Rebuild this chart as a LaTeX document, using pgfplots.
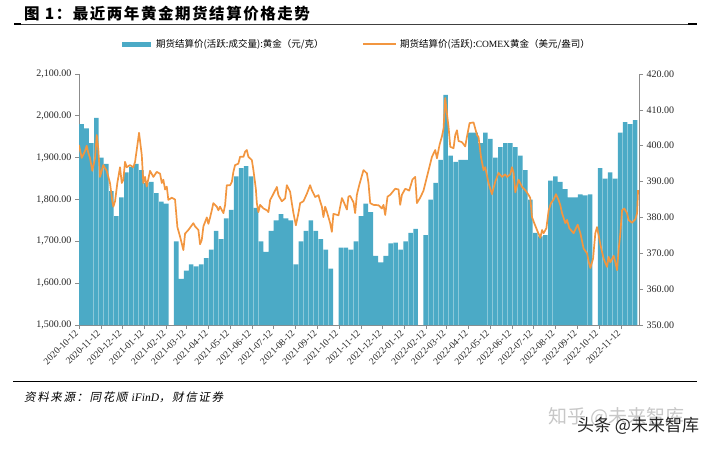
\documentclass[border=0pt]{standalone}
\usepackage{pgfplots}
\pgfplotsset{compat=1.18}
\usepackage{fontspec}
\setmainfont{Liberation Serif}
\newfontfamily\cjk{Noto Sans CJK SC}
\newfontfamily\cjktitle{Noto Sans CJK SC}[LetterSpace=10]
\newfontfamily\cjksl{Noto Sans CJK SC}[FakeSlant=0.2,LetterSpace=14]
\definecolor{barc}{RGB}{75,170,198}
\definecolor{linec}{RGB}{242,150,64}
\definecolor{axc}{RGB}{140,140,140}

\pgfplotstableread{
x y
3.5 1980
10.5 1970
17.5 1935
24.5 1995
31.5 1900
38.5 1885
45.5 1820
52.5 1760
59.5 1805
66.5 1865
73.5 1878
80.5 1885
87.5 1870
94.5 1840
101.5 1842
108.5 1815
115.5 1795
122.5 1790
136.5 1700
143.5 1610
150.5 1630
157.5 1645
164.5 1640
171.5 1645
178.5 1660
185.5 1680
192.5 1725
199.5 1705
206.5 1755
213.5 1775
220.5 1855
227.5 1875
234.5 1880
241.5 1855
248.5 1780
255.5 1700
262.5 1675
269.5 1725
276.5 1750
283.5 1765
290.5 1755
297.5 1750
304.5 1645
311.5 1700
318.5 1725
325.5 1750
332.5 1725
339.5 1705
346.5 1680
353.5 1635
367.5 1685
374.5 1685
381.5 1680
388.5 1700
395.5 1760
402.5 1790
409.5 1770
416.5 1665
423.5 1650
430.5 1665
437.5 1695
444.5 1697
451.5 1680
458.5 1700
465.5 1720
472.5 1730
486.5 1715
493.5 1800
500.5 1840
507.5 1895
514.5 2050
521.5 1905
528.5 1890
535.5 1895
542.5 1895
549.5 1960
556.5 1960
563.5 1935
570.5 1960
577.5 1945
584.5 1900
591.5 1925
598.5 1935
605.5 1935
612.5 1925
619.5 1905
626.5 1870
633.5 1800
640.5 1720
647.5 1712
654.5 1715
661.5 1845
668.5 1855
675.5 1842
682.5 1825
689.5 1805
696.5 1805
703.5 1812
710.5 1810
717.5 1812
731.5 1875
738.5 1850
745.5 1865
752.5 1850
759.5 1960
766.5 1985
773.5 1980
780.5 1990
}\shfe

\pgfplotstableread{
x y
0 400.2
3.8 396.6
8.4 398.5
10.8 400
13.1 398
15.4 396.6
18.7 393
22.5 396.6
24.9 403
27.1 399
29.5 391.3
34.1 394.6
38.9 393
43.5 389.6
46.8 384.5
48.2 383
50.6 384.5
53.8 389.6
57.6 394
60.0 389.6
62.2 390.5
64.6 395.5
67.0 394
71.6 394.6
76.3 394
78.7 395.5
81.0 398.8
84.3 403.6
88.1 397.4
90.3 389.6
92.7 391.3
95.1 388.6
99.7 393
104.4 391.3
109.1 392.7
113.8 392.2
116.2 389.6
118.4 390.5
120.8 387.8
123.2 388.6
125.4 384.9
130.2 385.5
134.8 385
138.1 377.3
141.9 374.6
146.5 370.9
148.9 375.5
153.5 376.5
158.3 377.8
160.5 378.4
162.9 377.5
167.6 376.5
169.9 372.5
172.3 373.7
174.6 377.5
179.4 380
181.6 378.2
184.0 380
186.4 382
188.6 384
193.4 383
195.6 382
198.0 383
202.7 381.2
205.1 383.5
207.4 389
212.1 389
214.5 389.9
216.7 392.7
219.1 394.6
223.7 395
226.1 396.9
230.8 396.9
233.1 398.3
235.5 398.8
237.8 396.9
242.6 396
244.8 393.2
248.2 388
249.6 384
251.8 381.5
254.2 383.5
258.9 382.5
263.6 382
265.9 381.5
268.3 384.9
270.6 385.7
272.9 386.6
277.7 388.5
279.9 386.2
284.7 384.5
289.3 385.3
291.7 389
296.3 387.2
298.7 384
301.0 381.2
304.4 377.8
308.0 381.2
310.4 384
315.0 384.5
319.8 386.6
324.4 389
326.8 387.6
331.5 385.7
336.1 386.2
338.5 384.5
340.9 383
343.1 380.1
345.5 383
347.9 381.6
352.5 378.4
354.9 376
357.1 381
364.2 380.6
369.0 385.4
371.2 384.5
376.0 382.2
378.2 385.8
380.6 386
385.3 384.2
387.6 381.2
390.0 386.3
393.3 389
399.3 393.2
404.1 392.3
406.3 389.6
408.7 384
413.3 383.5
420.4 383.4
425.1 382.5
427.4 383.5
429.8 380.7
433.0 385.8
436.8 386.3
443.8 388
448.5 387.8
450.8 383.5
453.2 386.3
457.9 388
463.5 387.5
468.1 390.6
471.9 391.3
474.3 384
478.9 385.5
483.6 387.5
488.3 391.3
495.4 396.9
500.0 398.8
502.4 396.5
506.0 400.2
509.4 402.6
511.7 404.8
514.0 413.3
516.4 409
518.7 405.2
521.1 399.7
525.7 399.3
528.1 403
530.5 404.3
532.7 401.3
537.5 401
542.1 399.8
544.5 402.5
548.2 406.3
553.8 406.5
558.6 403
560.8 402.4
564.2 396.9
567.8 393.2
570.2 394
574.9 389.5
579.6 386.5
584.3 390
588.9 392.4
593.7 391.3
598.3 392
600.7 391.3
605.3 392
607.7 394
610.0 392.4
612.4 387
617.0 390.5
621.8 388.5
626.4 387.6
631.0 386.3
633.4 385.4
635.8 380.1
639.0 378.4
642.8 376.5
647.5 374.3
649.9 376.5
652.1 375.6
656.0 377
659.2 382
662.5 384
666.2 385
669.5 386.5
673.2 384.8
675.6 383.4
678.0 381.2
682.6 378.4
685.0 379.3
688.2 377
694.2 375.6
699.9 378
703.7 375.6
708.3 371.3
713.1 370
715.4 367.6
717.7 365.9
721.5 368.5
724.7 375.6
727.1 377.3
729.4 375
731.7 372.5
736.4 368.5
741.1 366.2
743.4 369
745.8 367.5
750.4 369.3
752.8 367.5
755.2 365.3
757.4 370.9
759.8 375.6
762.2 382
765.4 382.5
769.2 381.2
771.4 379.3
776.2 378.5
780.9 379.5
783.3 381.2
784.7 387.6
}\comex

\begin{document}
\begin{tikzpicture}[x=1pt,y=1pt]
\path[use as bounding box] (0,0) rectangle (720,448);
% title
\node[anchor=west,inner sep=0pt] at (24,434.5) {\cjktitle\bfseries\fontsize{15.5}{18}\selectfont 图 1：最近两年黄金期货结算价格走势};
\draw[black!75,line width=0.8pt] (14,424) -- (697,424);
\draw[black,line width=1.8pt] (14,424) -- (21,424);
\draw[black,line width=1.8pt] (688,424) -- (697,424);
% legend
\fill[barc] (122,401) rectangle (151,405.5);
\node[anchor=west,inner sep=0pt] at (156,403.5) {\cjk\fontsize{9.5}{11}\selectfont 期货结算价(活跃:成交量):黄金（元/克）};
\draw[linec,line width=2pt] (363,403.5) -- (396,403.5);
\node[anchor=west,inner sep=0pt] at (400,403.5) {\cjk\fontsize{9.5}{11}\selectfont 期货结算价(活跃):{\rmfamily COMEX}黄金（美元/盎司）};

\begin{axis}[
  at={(79pt,123pt)}, anchor=south west, scale only axis,
  width=560pt, height=251pt,
  xmin=0, xmax=786, ymin=1500, ymax=2100, enlargelimits=false,
  axis y line*=left, axis x line*=bottom,
  axis line style={axc, line width=0.8pt},
  tick style={axc, line width=0.7pt}, tick align=outside, major tick length=4pt,
  xtick={0,31,61,92,123,151,182,212,243,273,304,335,365,396,426,457,488,516,547,577,608,638,669,700,730,761},
  xticklabels={2020-10-12,2020-11-12,2020-12-12,2021-01-12,2021-02-12,2021-03-12,2021-04-12,2021-05-12,2021-06-12,2021-07-12,2021-08-12,2021-09-12,2021-10-12,2021-11-12,2021-12-12,2022-01-12,2022-02-12,2022-03-12,2022-04-12,2022-05-12,2022-06-12,2022-07-12,2022-08-12,2022-09-12,2022-10-12,2022-11-12},
  xticklabel style={rotate=45, anchor=east, font=\fontsize{9.5}{11}\selectfont, text=black!85},
  ytick={1500,1600,...,2100},
  yticklabel style={font=\fontsize{10}{12}\selectfont, text=black!85,
    /pgf/number format/fixed, /pgf/number format/fixed zerofill,
    /pgf/number format/precision=2, /pgf/number format/1000 sep={,}},
  /pgf/number format/assume math mode=true,
  clip=true,
]
\addplot[ybar, bar width=6.4, fill=barc, draw=none] table[x=x,y=y] {\shfe};
\end{axis}

\begin{axis}[
  at={(79pt,123pt)}, anchor=south west, scale only axis,
  width=560pt, height=251pt,
  xmin=0, xmax=786, ymin=350, ymax=420, enlargelimits=false,
  axis y line*=right, axis x line=none,
  axis line style={axc, line width=0.8pt},
  tick style={axc, line width=0.7pt}, tick align=outside, major tick length=4pt,
  ytick={350,360,...,420},
  yticklabel style={font=\fontsize{10}{12}\selectfont, text=black!85,
    /pgf/number format/fixed, /pgf/number format/fixed zerofill,
    /pgf/number format/precision=2},
  /pgf/number format/assume math mode=true,
]
\addplot[linec, line width=1.7pt, line join=round, no marks] table[x=x,y=y] {\comex};
\end{axis}

% bottom rule and source
\draw[black,line width=1pt] (13,66.3) -- (697,66.3);
\node[anchor=west,inner sep=0pt] at (24,51) {\cjksl\fontsize{11.5}{13}\selectfont 资料来源：同花顺 {\rmfamily\itshape iFinD}，财信证券};
% watermarks
\node[anchor=west,inner sep=0pt,text=black!22] at (548,31) {\cjk\fontsize{19}{22}\selectfont 知乎 @未来智库};
\node[anchor=west,inner sep=0pt,text=black!85] at (577,22.5) {\cjk\fontsize{17}{20}\selectfont 头条 @未来智库};
\end{tikzpicture}
\end{document}
